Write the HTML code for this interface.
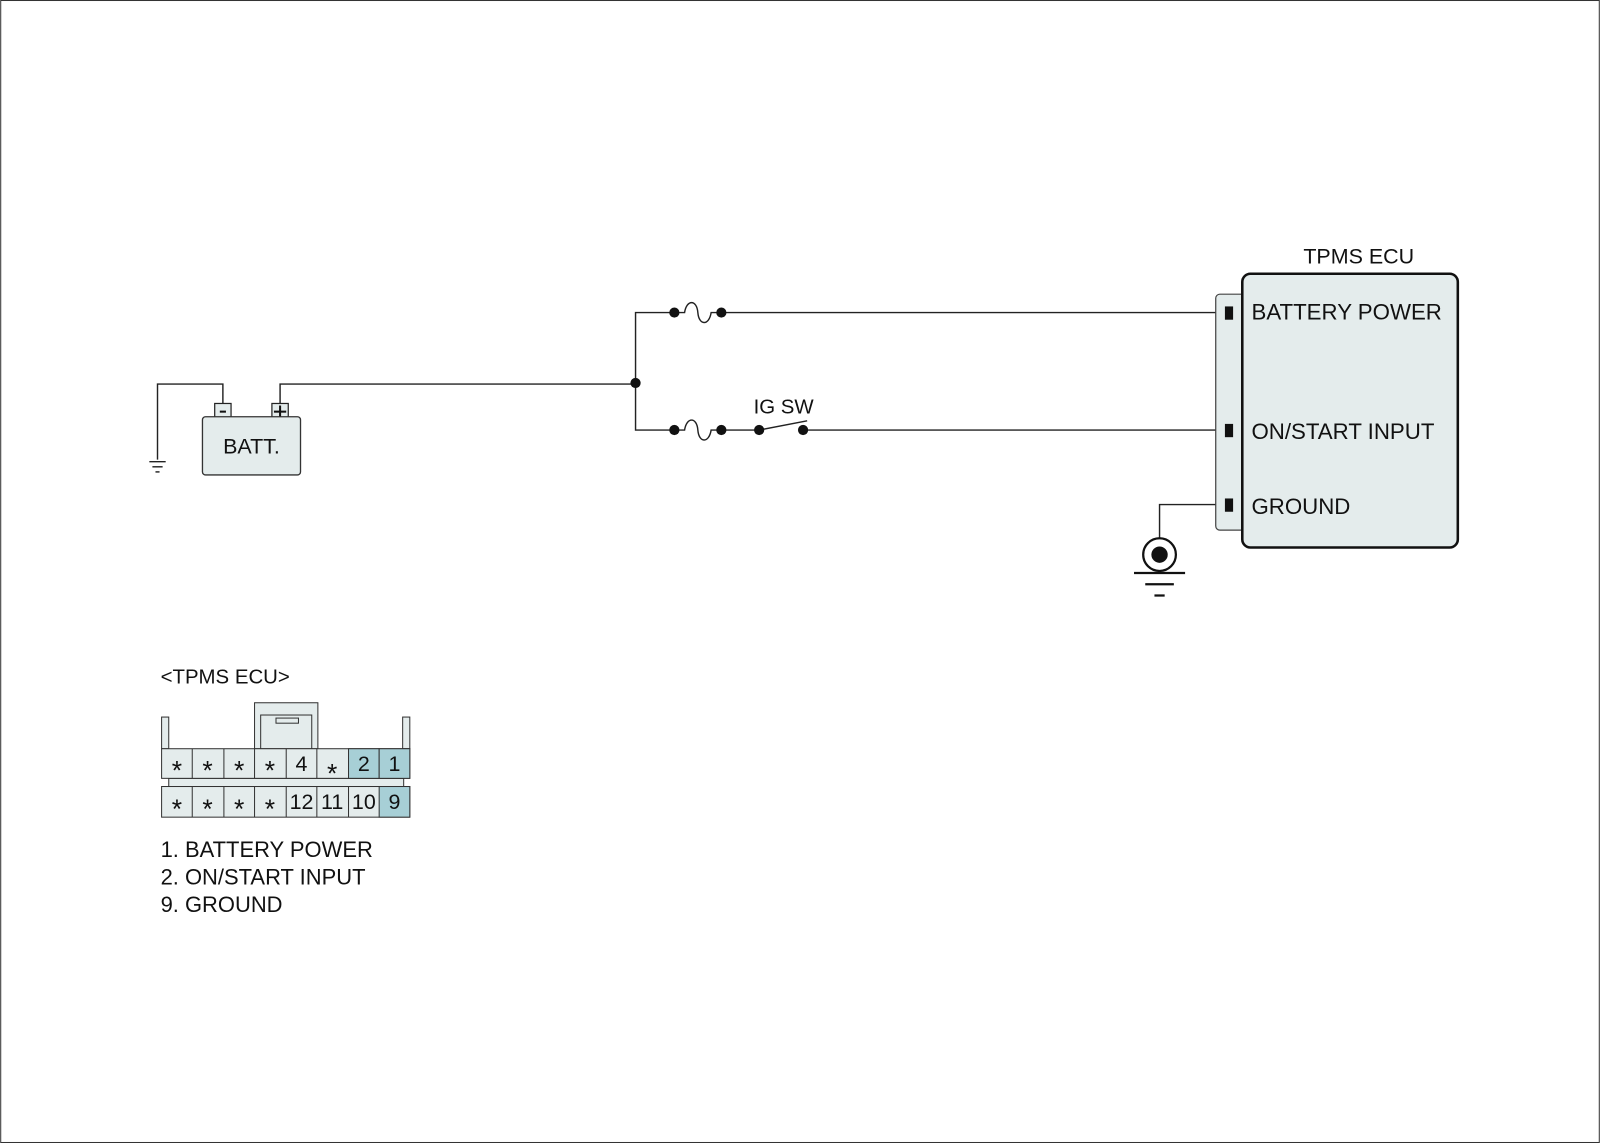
<!DOCTYPE html>
<html><head><style>html,body{margin:0;padding:0;background:#fff}svg{display:block}</style></head>
<body>
<svg width="1600" height="1143" viewBox="0 0 1566 1119" xmlns="http://www.w3.org/2000/svg" font-family="Liberation Sans, sans-serif">
<rect x="0.5" y="0.5" width="1565" height="1118" fill="#fff" stroke="#333" stroke-width="1"/>
<g stroke="#222" stroke-width="1.4" fill="none">
<polyline points="218,395 218,376 154,376 154,450"/>
<line x1="146" y1="452" x2="162" y2="452"/>
<line x1="149" y1="457" x2="159" y2="457"/>
<line x1="152" y1="462" x2="156" y2="462"/>
<polyline points="274,395 274,376 622,376"/>
<polyline points="660,306 622,306 622,421 660,421"/>
<line x1="706" y1="306" x2="1200" y2="306"/>
<line x1="706" y1="421" x2="743" y2="421"/>
<line x1="743" y1="421" x2="790" y2="412"/>
<line x1="786" y1="421" x2="1200" y2="421"/>
<path d="M660,306 L670,306 C672,293 682,293 683,306 C684,319 694,319 696,306 L706,306"/>
<path d="M660,421 L670,421 C672,408 682,408 683,421 C684,434 694,434 696,421 L706,421"/>
<polyline points="1200,494 1135,494 1135,527"/>
</g>
<g fill="#111">
<circle cx="622" cy="375" r="5"/>
<circle cx="660" cy="306" r="5"/><circle cx="706" cy="306" r="5"/>
<circle cx="660" cy="421" r="5"/><circle cx="706" cy="421" r="5"/>
<circle cx="743" cy="421" r="5"/><circle cx="786" cy="421" r="5"/>
</g>
<rect x="210" y="395" width="16" height="14" fill="#e4ecec" stroke="#222" stroke-width="1.2"/>
<rect x="266" y="395" width="16" height="14" fill="#e4ecec" stroke="#222" stroke-width="1.2"/>
<line x1="215" y1="403" x2="221" y2="403" stroke="#111" stroke-width="2"/>
<line x1="268" y1="403" x2="280" y2="403" stroke="#111" stroke-width="2"/><line x1="274" y1="397" x2="274" y2="409" stroke="#111" stroke-width="2"/>
<rect x="198" y="408" width="96" height="57" rx="3" fill="#e4ecec" stroke="#333" stroke-width="1.3"/>
<text x="246" y="444" font-size="21" text-anchor="middle" fill="#111">BATT.</text>
<text x="767" y="405" font-size="20" text-anchor="middle" fill="#111">IG SW</text>
<rect x="1190" y="288" width="40" height="231" rx="4" fill="#e4ecec" stroke="#444" stroke-width="1.2"/>
<rect x="1216" y="268" width="211" height="268" rx="8" fill="#e4ecec" stroke="#111" stroke-width="2.5"/>
<rect x="1199" y="300" width="8" height="13" fill="#111"/>
<rect x="1199" y="415" width="8" height="13" fill="#111"/>
<rect x="1199" y="488" width="8" height="13" fill="#111"/>
<text x="1330" y="258" font-size="21" text-anchor="middle" fill="#111">TPMS ECU</text>
<g font-size="21.8" fill="#111">
<text x="1225" y="313">BATTERY POWER</text>
<text x="1225" y="430">ON/START INPUT</text>
<text x="1225" y="503">GROUND</text>
</g>
<circle cx="1135" cy="543" r="16" fill="#fff" stroke="#111" stroke-width="2.2"/>
<circle cx="1135" cy="543" r="8" fill="#111"/>
<g stroke="#111" stroke-width="2.2">
<line x1="1110" y1="561" x2="1160" y2="561"/>
<line x1="1121" y1="572" x2="1149" y2="572"/>
<line x1="1130" y1="583" x2="1140" y2="583"/>
</g>
<text x="157" y="669" font-size="20" fill="#111">&lt;TPMS ECU&gt;</text>
<g stroke="#333" stroke-width="1" fill="#e4ecec">
<rect x="158" y="702" width="7" height="31"/>
<rect x="394" y="702" width="7" height="31"/>
<rect x="249" y="688" width="62" height="45"/>
<rect x="255" y="700" width="50" height="33"/>
<rect x="270" y="703" width="22" height="5"/>
<rect x="165" y="762" width="230" height="8"/>
</g>
<g stroke="#333" stroke-width="1">
<rect x="158" y="733" width="243" height="29" fill="#e4ecec"/>
<rect x="341" y="733" width="30" height="29" fill="#a7cfd6"/>
<rect x="371" y="733" width="30" height="29" fill="#a7cfd6"/>
<rect x="158" y="770" width="243" height="30" fill="#e4ecec"/>
<rect x="371" y="770" width="30" height="30" fill="#a7cfd6"/>
<line x1="188" y1="733" x2="188" y2="762"/><line x1="219" y1="733" x2="219" y2="762"/><line x1="249" y1="733" x2="249" y2="762"/><line x1="280" y1="733" x2="280" y2="762"/><line x1="310" y1="733" x2="310" y2="762"/>
<line x1="188" y1="770" x2="188" y2="800"/><line x1="219" y1="770" x2="219" y2="800"/><line x1="249" y1="770" x2="249" y2="800"/><line x1="280" y1="770" x2="280" y2="800"/><line x1="310" y1="770" x2="310" y2="800"/><line x1="341" y1="770" x2="341" y2="800"/>
</g>
<g font-size="26" fill="#111" text-anchor="middle">
<text x="173" y="763">*</text><text x="203" y="763">*</text><text x="234" y="763">*</text><text x="264" y="763">*</text>
<text x="325" y="766">*</text>
<text x="173" y="801">*</text><text x="203" y="801">*</text><text x="234" y="801">*</text><text x="264" y="801">*</text>
</g>
<g font-size="21" fill="#111" text-anchor="middle">
<text x="295" y="755">4</text><text x="356" y="755">2</text><text x="386" y="755">1</text>
<text x="295" y="792">12</text><text x="325" y="792">11</text><text x="356" y="792">10</text><text x="386" y="792">9</text>
</g>
<g font-size="21.5" fill="#111">
<text x="157" y="839">1. BATTERY POWER</text>
<text x="157" y="866">2. ON/START INPUT</text>
<text x="157" y="893">9. GROUND</text>
</g>
</svg>
</body></html>
